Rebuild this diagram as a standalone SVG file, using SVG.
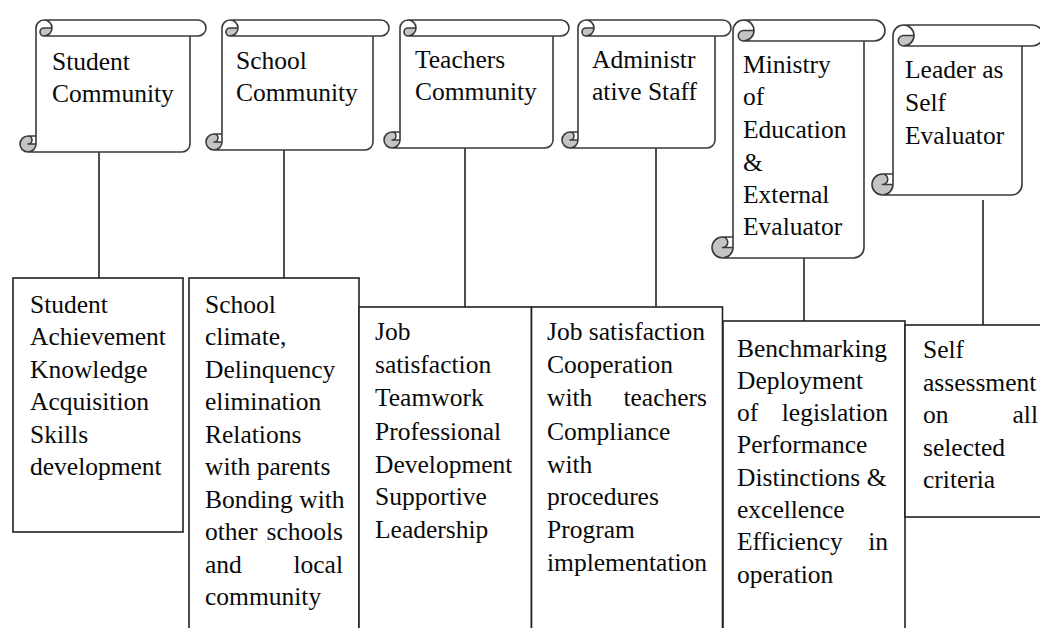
<svg xmlns="http://www.w3.org/2000/svg" width="1040" height="628" viewBox="0 0 1040 628">
  <style>
    .scroll-fill { fill: #ffffff; stroke: none; }
    .scroll-dark { fill: #c4c4c4; stroke: none; }
    .scroll-line { fill: none; stroke: #3a3a3a; stroke-width: 1.6; stroke-linejoin: round; }
    .box { fill: #ffffff; stroke: #222222; stroke-width: 1.6; }
    .conn { stroke: #222222; stroke-width: 1.6; fill: none; }
    .lbl { font-family: 'Liberation Serif', 'Times New Roman', serif; font-size: 25.5px; fill: #0a0a0a; }
  </style>

  <rect width="1040" height="628" fill="#ffffff"/>

  <!-- connectors: scroll heading down to its box -->
  <g id="connectors">
    <line class="conn" x1="99" y1="152" x2="99" y2="278"/>
    <line class="conn" x1="284" y1="150" x2="284" y2="278"/>
    <line class="conn" x1="465" y1="148" x2="465" y2="307"/>
    <line class="conn" x1="656" y1="148" x2="656" y2="307"/>
    <line class="conn" x1="804" y1="258" x2="804" y2="321"/>
    <line class="conn" x1="983" y1="200" x2="983" y2="325"/>
  </g>

  <!-- scroll headings -->
  <g id="scroll-student" transform="translate(20,20)">
    <path class="scroll-fill" d="M16,116 L16,8 A8,8 0 0 1 24,0 L178,0 A8,8 0 0 1 178,16 L170,16 L170,124 A8,8 0 0 1 162,132 L8,132 A8,8 0 0 1 8,116 Z"/>
    <path class="scroll-dark" d="M32,8 A8,8 0 0 1 24,16 A4,4 0 0 1 24,8 Z M16,124 A8,8 0 1 1 8,116 A4,4 0 0 1 8,124 Z"/>
    <path class="scroll-line" d="M16,116 L16,8 A8,8 0 0 1 24,0 L178,0 A8,8 0 0 1 178,16 L170,16 L170,124 A8,8 0 0 1 162,132 L8,132 A8,8 0 0 1 8,116 Z M24,0 A8,8 0 0 1 24,16 A4,4 0 0 1 24,8 L32,8 M170,16 L24,16 M8,116 A4,4 0 0 1 8,124 L16,124 M8,132 A8,8 0 0 0 16,124 L16,116"/>
    <g class="lbl">
      <text x="32" y="50">Student</text>
      <text x="32" y="82">Community</text>
    </g>
  </g>

  <g id="scroll-school" transform="translate(206,20)">
    <path class="scroll-fill" d="M16,114 L16,8 A8,8 0 0 1 24,0 L175,0 A8,8 0 0 1 175,16 L167,16 L167,122 A8,8 0 0 1 159,130 L8,130 A8,8 0 0 1 8,114 Z"/>
    <path class="scroll-dark" d="M32,8 A8,8 0 0 1 24,16 A4,4 0 0 1 24,8 Z M16,122 A8,8 0 1 1 8,114 A4,4 0 0 1 8,122 Z"/>
    <path class="scroll-line" d="M16,114 L16,8 A8,8 0 0 1 24,0 L175,0 A8,8 0 0 1 175,16 L167,16 L167,122 A8,8 0 0 1 159,130 L8,130 A8,8 0 0 1 8,114 Z M24,0 A8,8 0 0 1 24,16 A4,4 0 0 1 24,8 L32,8 M167,16 L24,16 M8,114 A4,4 0 0 1 8,122 L16,122 M8,130 A8,8 0 0 0 16,122 L16,114"/>
    <g class="lbl">
      <text x="30" y="49">School</text>
      <text x="30" y="81">Community</text>
    </g>
  </g>

  <g id="scroll-teachers" transform="translate(384,20)">
    <path class="scroll-fill" d="M16,112 L16,8 A8,8 0 0 1 24,0 L177,0 A8,8 0 0 1 177,16 L169,16 L169,120 A8,8 0 0 1 161,128 L8,128 A8,8 0 0 1 8,112 Z"/>
    <path class="scroll-dark" d="M32,8 A8,8 0 0 1 24,16 A4,4 0 0 1 24,8 Z M16,120 A8,8 0 1 1 8,112 A4,4 0 0 1 8,120 Z"/>
    <path class="scroll-line" d="M16,112 L16,8 A8,8 0 0 1 24,0 L177,0 A8,8 0 0 1 177,16 L169,16 L169,120 A8,8 0 0 1 161,128 L8,128 A8,8 0 0 1 8,112 Z M24,0 A8,8 0 0 1 24,16 A4,4 0 0 1 24,8 L32,8 M169,16 L24,16 M8,112 A4,4 0 0 1 8,120 L16,120 M8,128 A8,8 0 0 0 16,120 L16,112"/>
    <g class="lbl">
      <text x="31" y="48">Teachers</text>
      <text x="31" y="80">Community</text>
    </g>
  </g>

  <g id="scroll-admin" transform="translate(562,20)">
    <path class="scroll-fill" d="M16,112 L16,8 A8,8 0 0 1 24,0 L161,0 A8,8 0 0 1 161,16 L153,16 L153,120 A8,8 0 0 1 145,128 L8,128 A8,8 0 0 1 8,112 Z"/>
    <path class="scroll-dark" d="M32,8 A8,8 0 0 1 24,16 A4,4 0 0 1 24,8 Z M16,120 A8,8 0 1 1 8,112 A4,4 0 0 1 8,120 Z"/>
    <path class="scroll-line" d="M16,112 L16,8 A8,8 0 0 1 24,0 L161,0 A8,8 0 0 1 161,16 L153,16 L153,120 A8,8 0 0 1 145,128 L8,128 A8,8 0 0 1 8,112 Z M24,0 A8,8 0 0 1 24,16 A4,4 0 0 1 24,8 L32,8 M153,16 L24,16 M8,112 A4,4 0 0 1 8,120 L16,120 M8,128 A8,8 0 0 0 16,120 L16,112"/>
    <g class="lbl">
      <text x="30" y="48">Administr</text>
      <text x="30" y="80">ative Staff</text>
    </g>
  </g>

  <g id="scroll-ministry" transform="translate(712,20)">
    <path class="scroll-fill" d="M21,217 L21,10.5 A10.5,10.5 0 0 1 31.5,0 L162.5,0 A10.5,10.5 0 0 1 162.5,21 L152,21 L152,227.5 A10.5,10.5 0 0 1 141.5,238 L10.5,238 A10.5,10.5 0 0 1 10.5,217 Z"/>
    <path class="scroll-dark" d="M42,10.5 A10.5,10.5 0 0 1 31.5,21 A5.25,5.25 0 0 1 31.5,10.5 Z M21,227.5 A10.5,10.5 0 1 1 10.5,217 A5.25,5.25 0 0 1 10.5,227.5 Z"/>
    <path class="scroll-line" d="M21,217 L21,10.5 A10.5,10.5 0 0 1 31.5,0 L162.5,0 A10.5,10.5 0 0 1 162.5,21 L152,21 L152,227.5 A10.5,10.5 0 0 1 141.5,238 L10.5,238 A10.5,10.5 0 0 1 10.5,217 Z M31.5,0 A10.5,10.5 0 0 1 31.5,21 A5.25,5.25 0 0 1 31.5,10.5 L42,10.5 M152,21 L31.5,21 M10.5,217 A5.25,5.25 0 0 1 10.5,227.5 L21,227.5 M10.5,238 A10.5,10.5 0 0 0 21,227.5 L21,217"/>
    <g class="lbl">
      <text x="31" y="53">Ministry</text>
      <text x="31" y="85">of</text>
      <text x="31" y="118">Education</text>
      <text x="31" y="151">&amp;</text>
      <text x="31" y="183">External</text>
      <text x="31" y="215">Evaluator</text>
    </g>
  </g>

  <g id="scroll-leader" transform="translate(872,25)">
    <path class="scroll-fill" d="M21,149 L21,10.5 A10.5,10.5 0 0 1 31.5,0 L160.5,0 A10.5,10.5 0 0 1 160.5,21 L150,21 L150,159.5 A10.5,10.5 0 0 1 139.5,170 L10.5,170 A10.5,10.5 0 0 1 10.5,149 Z"/>
    <path class="scroll-dark" d="M42,10.5 A10.5,10.5 0 0 1 31.5,21 A5.25,5.25 0 0 1 31.5,10.5 Z M21,159.5 A10.5,10.5 0 1 1 10.5,149 A5.25,5.25 0 0 1 10.5,159.5 Z"/>
    <path class="scroll-line" d="M21,149 L21,10.5 A10.5,10.5 0 0 1 31.5,0 L160.5,0 A10.5,10.5 0 0 1 160.5,21 L150,21 L150,159.5 A10.5,10.5 0 0 1 139.5,170 L10.5,170 A10.5,10.5 0 0 1 10.5,149 Z M31.5,0 A10.5,10.5 0 0 1 31.5,21 A5.25,5.25 0 0 1 31.5,10.5 L42,10.5 M150,21 L31.5,21 M10.5,149 A5.25,5.25 0 0 1 10.5,159.5 L21,159.5 M10.5,170 A10.5,10.5 0 0 0 21,159.5 L21,149"/>
    <g class="lbl">
      <text x="33" y="53">Leader as</text>
      <text x="33" y="86">Self</text>
      <text x="33" y="119">Evaluator</text>
    </g>
  </g>

  <!-- criteria boxes -->
  <g id="box-student">
    <rect class="box" x="13" y="278" width="170" height="254"/>
    <g class="lbl">
      <text x="30" y="313">Student</text>
      <text x="30" y="345">Achievement</text>
      <text x="30" y="378">Knowledge</text>
      <text x="30" y="410">Acquisition</text>
      <text x="30" y="443">Skills</text>
      <text x="30" y="475">development</text>
    </g>
  </g>

  <g id="box-school">
    <rect class="box" x="189" y="278" width="170" height="370"/>
    <g class="lbl">
      <text x="205" y="313">School</text>
      <text x="205" y="345">climate,</text>
      <text x="205" y="378">Delinquency</text>
      <text x="205" y="410">elimination</text>
      <text x="205" y="443">Relations</text>
      <text x="205" y="475">with parents</text>
      <text x="205" y="508">Bonding with</text>
      <text x="205" y="540">other</text>
      <text x="343" y="540" text-anchor="end">schools</text>
      <text x="205" y="573">and</text>
      <text x="343" y="573" text-anchor="end">local</text>
      <text x="205" y="605">community</text>
    </g>
  </g>

  <g id="box-teachers">
    <rect class="box" x="359" y="307" width="172.5" height="340"/>
    <g class="lbl">
      <text x="375" y="340">Job</text>
      <text x="375" y="373">satisfaction</text>
      <text x="375" y="406">Teamwork</text>
      <text x="375" y="440">Professional</text>
      <text x="375" y="473">Development</text>
      <text x="375" y="505">Supportive</text>
      <text x="375" y="538">Leadership</text>
    </g>
  </g>

  <g id="box-admin">
    <rect class="box" x="531.5" y="307" width="191" height="340"/>
    <g class="lbl">
      <text x="547" y="340">Job satisfaction</text>
      <text x="547" y="373">Cooperation</text>
      <text x="547" y="406">with</text>
      <text x="707" y="406" text-anchor="end">teachers</text>
      <text x="547" y="440">Compliance</text>
      <text x="547" y="473">with</text>
      <text x="547" y="505">procedures</text>
      <text x="547" y="538">Program</text>
      <text x="547" y="571">implementation</text>
    </g>
  </g>

  <g id="box-ministry">
    <rect class="box" x="723" y="321" width="182" height="330"/>
    <g class="lbl">
      <text x="737" y="357">Benchmarking</text>
      <text x="737" y="389">Deployment</text>
      <text x="737" y="421">of</text>
      <text x="888" y="421" text-anchor="end">legislation</text>
      <text x="737" y="453">Performance</text>
      <text x="737" y="486">Distinctions &amp;</text>
      <text x="737" y="518">excellence</text>
      <text x="737" y="550">Efficiency</text>
      <text x="888" y="550" text-anchor="end">in</text>
      <text x="737" y="583">operation</text>
    </g>
  </g>

  <g id="box-leader">
    <rect class="box" x="905" y="325" width="150" height="192"/>
    <g class="lbl">
      <text x="923" y="358">Self</text>
      <text x="923" y="391">assessment</text>
      <text x="923" y="423">on</text>
      <text x="1038" y="423" text-anchor="end">all</text>
      <text x="923" y="456">selected</text>
      <text x="923" y="488">criteria</text>
    </g>
  </g>
</svg>
